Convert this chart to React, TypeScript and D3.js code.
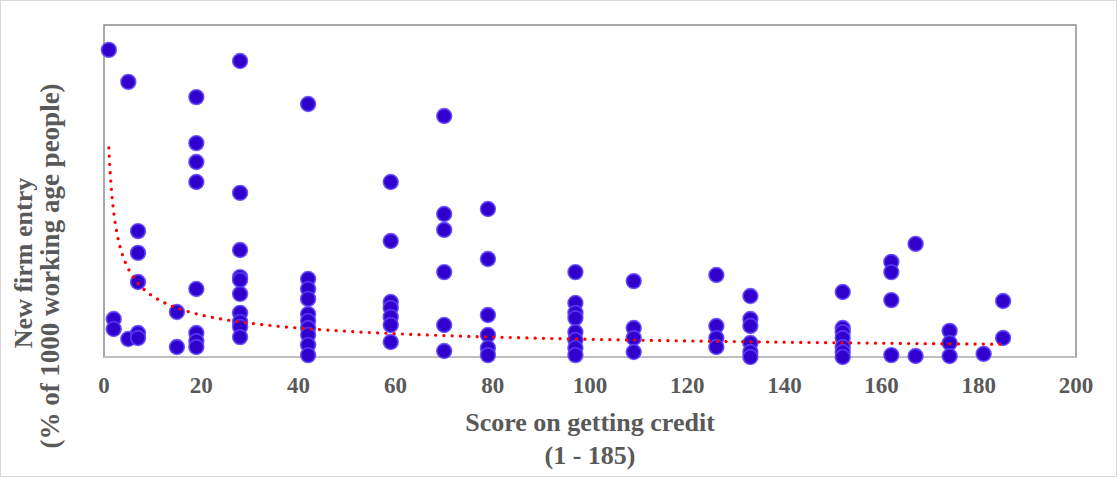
import * as d3 from 'd3'

// scores on getting credit (x) and new firm entry (y)
const scoreX = [
  1, 2, 2, 5, 5, 7, 7, 7, 7, 7, 15, 15,
  19, 19, 19, 19, 19, 19, 19, 19,
  28, 28, 28, 28, 28, 28, 28, 28, 28, 28,
  42, 42, 42, 42, 42, 42, 42, 42, 42, 42,
  59, 59, 59, 59, 59, 59, 59,
  70, 70, 70, 70, 70, 70,
  79, 79, 79, 79, 79, 79,
  97, 97, 97, 97, 97, 97, 97, 97,
  109, 109, 109, 109,
  126, 126, 126, 126,
  133, 133, 133, 133, 133, 133,
  152, 152, 152, 152, 152, 152, 152,
  162, 162, 162, 162,
  167, 167,
  174, 174, 174,
  181,
  185, 185,
]
const entryY = [
  12.95, 1.6, 1.18, 11.6, 0.76, 5.31, 4.39, 3.16, 1.01, 0.8, 1.9, 0.42,
  10.96, 9.02, 8.22, 7.38, 2.87, 1.01, 0.67, 0.42,
  12.48, 6.92, 4.51, 3.37, 3.25, 2.66, 1.86, 1.48, 1.27, 0.84,
  10.67, 3.29, 2.87, 2.45, 1.81, 1.52, 1.22, 0.93, 0.51, 0.08,
  7.38, 4.89, 2.32, 2.07, 1.69, 1.35, 0.63,
  10.16, 6.03, 5.36, 3.58, 1.35, 0.25,
  6.24, 4.13, 1.77, 0.93, 0.38, 0.08,
  3.58, 2.28, 1.86, 1.64, 1.05, 0.72, 0.38, 0.08,
  3.2, 1.22, 0.8, 0.21,
  3.46, 1.31, 0.8, 0.42,
  2.57, 1.6, 1.31, 0.59, 0.21, 0.0,
  2.74, 1.22, 1.05, 0.8, 0.42, 0.21, 0.0,
  4.01, 3.58, 2.4, 0.08,
  4.77, 0.04,
  1.1, 0.59, 0.04,
  0.13,
  2.36, 0.8,
]
const xTicks = [0, 20, 40, 60, 80, 100, 120, 140, 160, 180, 200]

// power trendline y = a * x^b
const trendA = 8.82
const trendB = -0.536
const trendRange = [1, 185]

const W = 1118
const H = 478
const plot = { left: 104, right: 1076, top: 25, bottom: 357 }
const textColor = '#595959'
const font = '"Liberation Serif", "Times New Roman", serif'

export default function App() {
  const x = d3.scaleLinear().domain([0, 200]).range([plot.left, plot.right])
  const y = d3.scaleLinear().domain([0, 14]).range([plot.bottom, plot.top])

  const points = scoreX.map((s, i) => ({ s, v: entryY[i] }))
  const trendXs = d3.range(trendRange[0], trendRange[1] + 0.001, 0.25)
  const trendLine = d3
    .line<number>()
    .x(d => x(d))
    .y(d => y(trendA * Math.pow(d, trendB)))

  return (
    <svg
      width={W}
      height={H}
      style={{ position: 'absolute', left: 0, top: 0, background: '#fff' }}
      fontFamily={font}
    >
      <rect x={0.5} y={0.5} width={W - 2} height={H - 2} fill="#fff" stroke="#d9d9d9" />
      <rect
        x={plot.left}
        y={plot.top}
        width={plot.right - plot.left}
        height={plot.bottom - plot.top}
        fill="#fff"
        stroke="#8c8c8c"
        strokeWidth={1.5}
      />
      <line x1={plot.left} x2={plot.right} y1={plot.bottom} y2={plot.bottom} stroke="#bfbfbf" strokeWidth={2} />

      {points.map((p, i) => (
        <circle
          key={i}
          cx={x(p.s)}
          cy={y(p.v)}
          r={7.3}
          fill="#3000cc"
          stroke="#5a3cf8"
          strokeOpacity={0.85}
          strokeWidth={1.8}
        />
      ))}

      <path
        d={trendLine(trendXs) ?? ''}
        fill="none"
        stroke="#ff0000"
        strokeWidth={3.2}
        strokeLinecap="round"
        strokeDasharray="0.1 8.2"
      />

      {xTicks.map(t => (
        <text
          key={t}
          x={x(t)}
          y={393}
          textAnchor="middle"
          fontSize={23}
          fontWeight="bold"
          fill={textColor}
        >
          {t}
        </text>
      ))}

      <text x={590} y={431} textAnchor="middle" fontSize={26} fontWeight="bold" fill={textColor}>
        Score on getting credit
      </text>
      <text x={590} y={464} textAnchor="middle" fontSize={26} fontWeight="bold" fill={textColor}>
        (1 - 185)
      </text>

      <g transform="translate(32, 263) rotate(-90)">
        <text textAnchor="middle" fontSize={26} fontWeight="bold" fill={textColor}>
          New firm entry
        </text>
      </g>
      <g transform="translate(59, 266) rotate(-90)">
        <text textAnchor="middle" fontSize={27} fontWeight="bold" fill={textColor}>
          (% of 1000 working age people)
        </text>
      </g>
    </svg>
  )
}
